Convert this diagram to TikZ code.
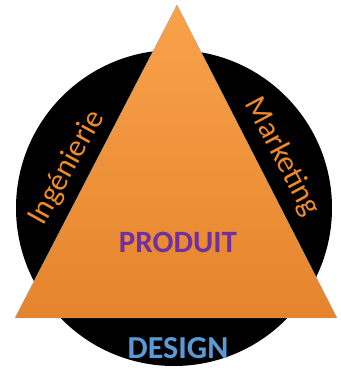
\documentclass[tikz,border=0pt]{standalone}
\usepackage{fontspec}
\setmainfont{Carlito}
\usetikzlibrary{shadings}

\definecolor{orangeclair}{HTML}{F9A24A}
\definecolor{orangefonce}{HTML}{E5842C}
\definecolor{orangetexte}{HTML}{EE8A2A}
\definecolor{violet}{HTML}{7030A0}
\definecolor{bleu}{HTML}{5B9BD5}

\begin{document}
\begin{tikzpicture}[x=1pt,y=1pt,
    cote/.style={text=orangetexte, font=\fontsize{31}{31}\selectfont, inner sep=0pt},
    titre/.style={font=\bfseries\fontsize{31}{31}\selectfont, inner sep=0pt}]

  % Cadre
  \useasboundingbox (0,0) rectangle (340,379);

  % Disque noir
  \fill[black] (174,171) circle (158);

  % Triangle
  \shade[top color=orangeclair, bottom color=orangefonce, draw=gray!70, line width=0.4pt]
    (177,374) -- (15,61) -- (337,61) -- cycle;

  % Textes des cotes
  \node[cote, rotate=61] (ingenierie) at (67,211) {Ingénierie};
  \node[cote, rotate=-62] (marketing) at (282,222) {Marketing};

  % Centre et base
  \node[titre, text=violet] (produit) at (178,137) {PRODUIT};
  \node[titre, text=bleu, font=\bfseries\fontsize{32}{32}\selectfont] (design) at (178,31) {DESIGN};
\end{tikzpicture}
\end{document}
